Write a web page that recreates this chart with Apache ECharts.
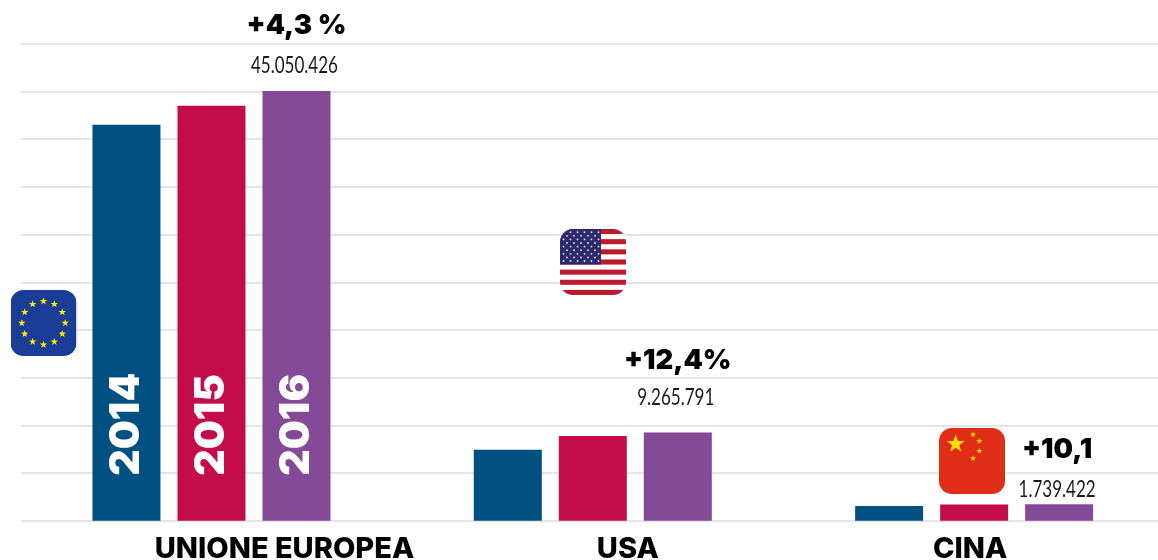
<!DOCTYPE html>
<html>
<head>
<meta charset="utf-8">
<title>Unione Europea, USA, Cina</title>
<script src="https://cdn.jsdelivr.net/npm/echarts@6/dist/echarts.min.js"></script>
<style>
html, body { margin: 0; padding: 0; background: #fff; }
#chart { width: 1158px; height: 560px; }
</style>
</head>
<body>
<div id="chart"></div>
<script>
const categories = ['UNIONE EUROPEA', 'USA', 'CINA'];
const years = ['2014', '2015', '2016'];
const values2014 = [41500000, 7440000, 1550000];
const values2015 = [43500000, 8900000, 1720000];
const values2016 = [45050426, 9265791, 1739422];
const growthLabels = ['+4,3 %', '+12,4%', '+10,1'];
const totalLabels = ['45.050.426', '9.265.791', '1.739.422'];
const colors = ['#005082', '#c50c4a', '#844a97'];

// label placement, per country
const categoryPadding = [[0, 0, 0, 146], [0, 0, 0, 70], [0, 8, 0, 0]];
const growthDx = [85, 85, 83];
const growthDy = [-65, -72, -54];
const totalDy = [-25, -35, -15];

const starPath = (cx, cy, r) => {
    let pts = [];
    for (let i = 0; i < 10; i++) {
        const rad = i % 2 ? r * 0.4 : r;
        const a = -Math.PI / 2 + i * Math.PI / 5;
        pts.push((cx + rad * Math.cos(a)).toFixed(2) + ',' + (cy + rad * Math.sin(a)).toFixed(2));
    }
    return '<polygon points="' + pts.join(' ') + '"/>';
};

const flagSvg = body => 'data:image/svg+xml;charset=utf-8,' + encodeURIComponent(
    '<svg xmlns="http://www.w3.org/2000/svg" width="66" height="66" viewBox="0 0 66 66">' +
    '<clipPath id="c"><rect width="66" height="66" rx="13"/></clipPath><g clip-path="url(#c)">' + body + '</g></svg>');

function euFlag() {
    let s = '<rect width="66" height="66" fill="#1a3e97"/><g fill="#ffec00">';
    for (let i = 0; i < 12; i++) {
        const a = i * Math.PI / 6;
        s += starPath(33 + 21.7 * Math.sin(a), 33 - 21.7 * Math.cos(a), 3.9);
    }
    return flagSvg(s + '</g>');
}

function usFlag() {
    let s = '<rect width="66" height="66" fill="#fff"/><g fill="#be1a2e">';
    for (let i = 0; i < 7; i++) s += '<rect y="' + (i * 10.15).toFixed(2) + '" width="66" height="5.08"/>';
    s += '</g><rect width="41" height="35.5" fill="#2f2a6e"/><g fill="#e8e8f2">';
    for (let r = 0; r < 9; r++) {
        const n = r % 2 ? 5 : 6;
        for (let c = 0; c < n; c++) {
            s += '<circle cx="' + ((r % 2 ? 7 : 3.5) + c * 7) + '" cy="' + (3.2 + r * 3.6) + '" r="0.9"/>';
        }
    }
    return flagSvg(s + '</g>');
}

function cnFlag() {
    let s = '<rect width="66" height="66" fill="#e02d15"/><g fill="#ffdf00">';
    s += starPath(16.7, 16, 9.5);
    s += starPath(34, 6.5, 3.2) + starPath(40.3, 13, 3.2) + starPath(40.3, 23, 3.2) + starPath(34, 30.3, 3.2);
    return flagSvg(s + '</g>');
}

const flagImage = (image, x, y) => ({
    type: 'image', left: x, top: y, z: 10,
    style: { image: image, width: 66, height: 66 }
});

function barData(values, idx) {
    return values.map((v, i) => {
        const item = { value: v };
        // year names are written only inside the EU bars
        if (i === 0) {
            item.label = {
                show: true,
                formatter: years[idx],
                position: 'insideBottom',
                distance: 45,
                rotate: 90,
                align: 'left',
                verticalAlign: 'middle',
                color: '#fff',
                fontFamily: 'Inter',
                fontWeight: 900,
                fontSize: 41
            };
        }
        return item;
    });
}

// growth and total above each 2016 bar; the total is squeezed like the original condensed type
function renderTopLabels(params, api) {
    const i = params.dataIndex;
    const p = api.coord([api.value(0), api.value(1)]);
    return {
        type: 'group',
        children: [
            {
                type: 'text', x: p[0] + growthDx[i], y: p[1] + growthDy[i],
                style: {
                    text: growthLabels[i], fill: '#000', align: 'center', verticalAlign: 'middle',
                    font: '900 27.5px Inter'
                }
            },
            {
                type: 'text', x: p[0] + 83, y: p[1] + totalDy[i], scaleX: 0.74,
                style: {
                    text: totalLabels[i], fill: '#1a1a1a', align: 'center', verticalAlign: 'middle',
                    font: '400 23px Lato'
                }
            }
        ]
    };
}

const chart = echarts.init(document.getElementById('chart'));
const option = {
    animation: false,
    grid: { left: 20.8, width: 1144, top: 43.7, bottom: 39.2, outerBoundsMode: 'none' },
    xAxis: {
        type: 'category',
        data: categories.map((c, i) => ({ value: c, textStyle: { padding: categoryPadding[i] } })),
        axisLine: { show: false },
        axisTick: { show: false },
        axisLabel: {
            interval: 0,
            margin: 14,
            color: '#000',
            fontFamily: 'Inter',
            fontWeight: 800,
            fontSize: 29
        }
    },
    yAxis: {
        type: 'value',
        min: 0,
        max: 50000000,
        interval: 5000000,
        axisLabel: { show: false },
        axisLine: { show: false },
        axisTick: { show: false },
        splitLine: { lineStyle: { color: '#dcdcdc', width: 1.5 } }
    },
    series: [
        { name: years[0], type: 'bar', barWidth: 68, barGap: '25%', itemStyle: { color: colors[0] }, data: barData(values2014, 0) },
        { name: years[1], type: 'bar', barWidth: 68, barGap: '25%', itemStyle: { color: colors[1] }, data: barData(values2015, 1) },
        { name: years[2], type: 'bar', barWidth: 68, barGap: '25%', itemStyle: { color: colors[2] }, data: barData(values2016, 2) },
        { name: 'labels', type: 'custom', renderItem: renderTopLabels, z: 5, data: values2016.map((v, i) => [i, v]) }
    ],
    graphic: [
        flagImage(euFlag(), 10.5, 290),
        flagImage(usFlag(), 560, 229),
        flagImage(cnFlag(), 939, 428)
    ]
};
chart.setOption(option);
window.addEventListener('resize', () => chart.resize());
</script>
</body>
</html>
